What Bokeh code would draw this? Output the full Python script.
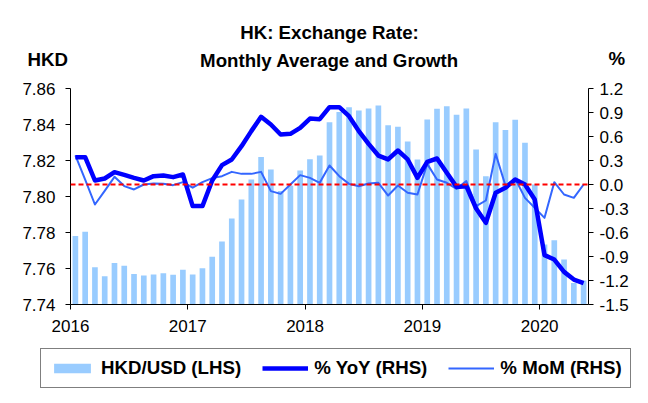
import numpy as np
from bokeh.plotting import figure
from bokeh.layouts import column
from bokeh.models import (Range1d, LinearAxis, FixedTicker, NumeralTickFormatter,
                          Span, Legend, LegendItem, Title, ColumnDataSource)
from bokeh.embed import file_html
from bokeh.resources import INLINE

# ---- data (monthly, Jan 2016 - May 2020) ----
years = [2016, 2017, 2018, 2019, 2020]
months = [f"{y}-{m:02d}" for y in years for m in range(1, 13)][:53]

hkd_usd = [
    7.7780, 7.7804, 7.7607, 7.7557, 7.7631, 7.7615, 7.7570, 7.7561, 7.7567, 7.7574, 7.7565, 7.7593,
    7.7567, 7.7602, 7.7665, 7.7750, 7.7878, 7.7983, 7.8094, 7.8220, 7.8150, 7.8030, 7.8060, 7.8144,
    7.8207, 7.8228, 7.8413, 7.8470, 7.8496, 7.8478, 7.8489, 7.8506, 7.8396, 7.8387, 7.8306, 7.8206,
    7.8428, 7.8487, 7.8502, 7.8454, 7.8489, 7.8261, 7.8113, 7.8413, 7.8370, 7.8426, 7.8298, 7.8067,
    7.7733, 7.7757, 7.7650, 7.7520, 7.7533,
]
yoy = [
    0.342, 0.342, 0.050, 0.075, 0.154, 0.121, 0.083, 0.050, 0.104, 0.113, 0.092, 0.125,
    -0.270, -0.270, 0.050, 0.242, 0.313, 0.479, 0.667, 0.846, 0.750, 0.625, 0.633, 0.708,
    0.825, 0.817, 0.967, 0.967, 0.854, 0.667, 0.508, 0.362, 0.313, 0.425, 0.313, 0.083,
    0.283, 0.325, 0.146, -0.030, -0.021, -0.300, -0.479, -0.104, -0.042, 0.063, 0.000, -0.188,
    -0.883, -0.938, -1.092, -1.188, -1.233,
]
mom = [
    0.363, 0.060, -0.250, -0.080, 0.096, -0.020, -0.062, 0.000, 0.013, 0.008, -0.008, 0.030,
    -0.040, 0.030, 0.080, 0.104, 0.158, 0.133, 0.133, 0.158, -0.083, -0.117, 0.000, 0.117,
    0.083, 0.021, 0.238, 0.104, 0.008, -0.021, 0.013, 0.021, -0.138, -0.013, -0.104, -0.125,
    0.258, 0.063, 0.021, -0.054, 0.042, -0.271, -0.200, 0.383, -0.013, 0.071, -0.167, -0.292,
    -0.417, 0.029, -0.125, -0.167, 0.000,
]
left_ticks = [7.74, 7.76, 7.78, 7.80, 7.82, 7.84, 7.86]
right_ticks = [-1.5, -1.2, -0.9, -0.6, -0.3, 0.0, 0.3, 0.6, 0.9, 1.2]
series_labels = ["HKD/USD (LHS)", "% YoY (RHS)", "% MoM (RHS)"]

n = len(months)
src = ColumnDataSource(dict(
    x=np.arange(n) + 0.5, month=months, hkd=hkd_usd, yoy=yoy, mom=mom,
))

FONT = "Liberation Sans"
BIG = "18.7px"
BAR_STYLE = dict(fill_color="#99CCFF", line_color=None)
YOY_STYLE = dict(line_color="#0000FF", line_width=4.5, line_join="round")
MOM_STYLE = dict(line_color="#3366FF", line_width=2, line_join="round")

p = figure(frame_width=518, frame_height=216, output_backend="svg", toolbar_location=None,
           x_range=Range1d(0, n), y_range=Range1d(left_ticks[0], left_ticks[-1]),
           min_border_left=70, min_border_right=58, min_border_top=88,
           min_border_bottom=44)
p.grid.visible = False
p.outline_line_color = None
p.background_fill_color = "white"
p.border_fill_color = "white"

p.extra_y_ranges = {"pct": Range1d(right_ticks[0], right_ticks[-1])}
raxis = LinearAxis(y_range_name="pct")
p.add_layout(raxis, "right")

# axes styling
p.xaxis.ticker = FixedTicker(ticks=[12 * k for k in range(len(years))])
p.xaxis.major_label_overrides = {12 * k: str(y) for k, y in enumerate(years)}
p.yaxis[0].ticker = FixedTicker(ticks=left_ticks)
p.yaxis[0].formatter = NumeralTickFormatter(format="0.00")
raxis.ticker = FixedTicker(ticks=right_ticks)
raxis.formatter = NumeralTickFormatter(format="0.0")
for ax in p.axis:
    ax.axis_line_color = "black"
    ax.major_tick_line_color = "black"
    ax.major_tick_out = 5
    ax.major_tick_in = 0
    ax.minor_tick_line_color = None
    ax.major_label_text_font = FONT
    ax.major_label_text_font_size = "17px"
    ax.major_label_text_color = "black"
p.xaxis.major_label_standoff = 10
p.yaxis[0].major_label_standoff = 10
raxis.major_label_standoff = 6

p.vbar(x="x", top="hkd", bottom=left_ticks[0], width=0.58, source=src, **BAR_STYLE)
zero = Span(location=0, dimension="width", y_range_name="pct",
            line_color="#FF0000", line_width=2, line_dash="5 3")
p.add_layout(zero)
p.line("x", "mom", source=src, y_range_name="pct", **MOM_STYLE)
p.line("x", "yoy", source=src, y_range_name="pct", **YOY_STYLE)

# ---- header rows (stacked outward from the frame) ----
def title_kw():
    return dict(text_font=FONT, text_font_size=BIG, text_font_style="bold",
                text_color="black")

p.title.text = ""
p.add_layout(Title(text=" ", align="center", standoff=6.3, **title_kw()), "above")
p.add_layout(Title(text="Monthly Average and Growth", align="center", standoff=-22,
                   **title_kw()), "above")
p.add_layout(Title(text="HKD", align="left", offset=-43, standoff=-22, **title_kw()),
             "above")
p.add_layout(Title(text="%", align="left", offset=538, standoff=-22, **title_kw()),
             "above")
p.add_layout(Title(text="HK: Exchange Rate:", align="center", standoff=28,
                   **title_kw()), "above")

# ---- legend strip below the chart: same series, viewed through an empty window ----
leg = figure(width=646, height=52, output_backend="svg", toolbar_location=None,
             x_range=Range1d(-2, -1), y_range=Range1d(-2, -1),
             x_axis_location=None, y_axis_location=None,
             min_border_left=0, min_border_right=0, min_border_top=0, min_border_bottom=0)
leg.grid.visible = False
leg.outline_line_color = None
leg.background_fill_color = "white"
leg.border_fill_color = "white"
k_bar = leg.vbar(x="x", top="hkd", bottom=left_ticks[0], width=0.58, source=src, **BAR_STYLE)
k_yoy = leg.line("x", "yoy", source=src, **YOY_STYLE)
k_mom = leg.line("x", "mom", source=src, **MOM_STYLE)

unaligned = "frame_align" in leg.properties()
if unaligned:
    leg.frame_align = False
    p.frame_align = False
    loc_x, gw, sp = 40, 46, 21
else:
    loc_x, gw, sp = 0, 40, 17

legend = Legend(items=[
    LegendItem(label=series_labels[0], renderers=[k_bar]),
    LegendItem(label=series_labels[1], renderers=[k_yoy]),
    LegendItem(label=series_labels[2], renderers=[k_mom]),
], orientation="horizontal", location=(loc_x, 12))
legend.label_text_font = FONT
legend.label_text_font_size = BIG
legend.label_text_font_style = "bold"
legend.label_text_color = "black"
legend.padding = 8
legend.spacing = sp
legend.label_standoff = 6
legend.glyph_width = gw
legend.glyph_height = 12
legend.label_height = 20
legend.margin = 0
legend.border_line_color = "black"
legend.border_line_width = 1
legend.background_fill_color = "white"
legend.background_fill_alpha = 1
leg.add_layout(legend, "center")

layout = column(p, leg, spacing=0)
open("out.html", "w").write(file_html(layout, INLINE))
